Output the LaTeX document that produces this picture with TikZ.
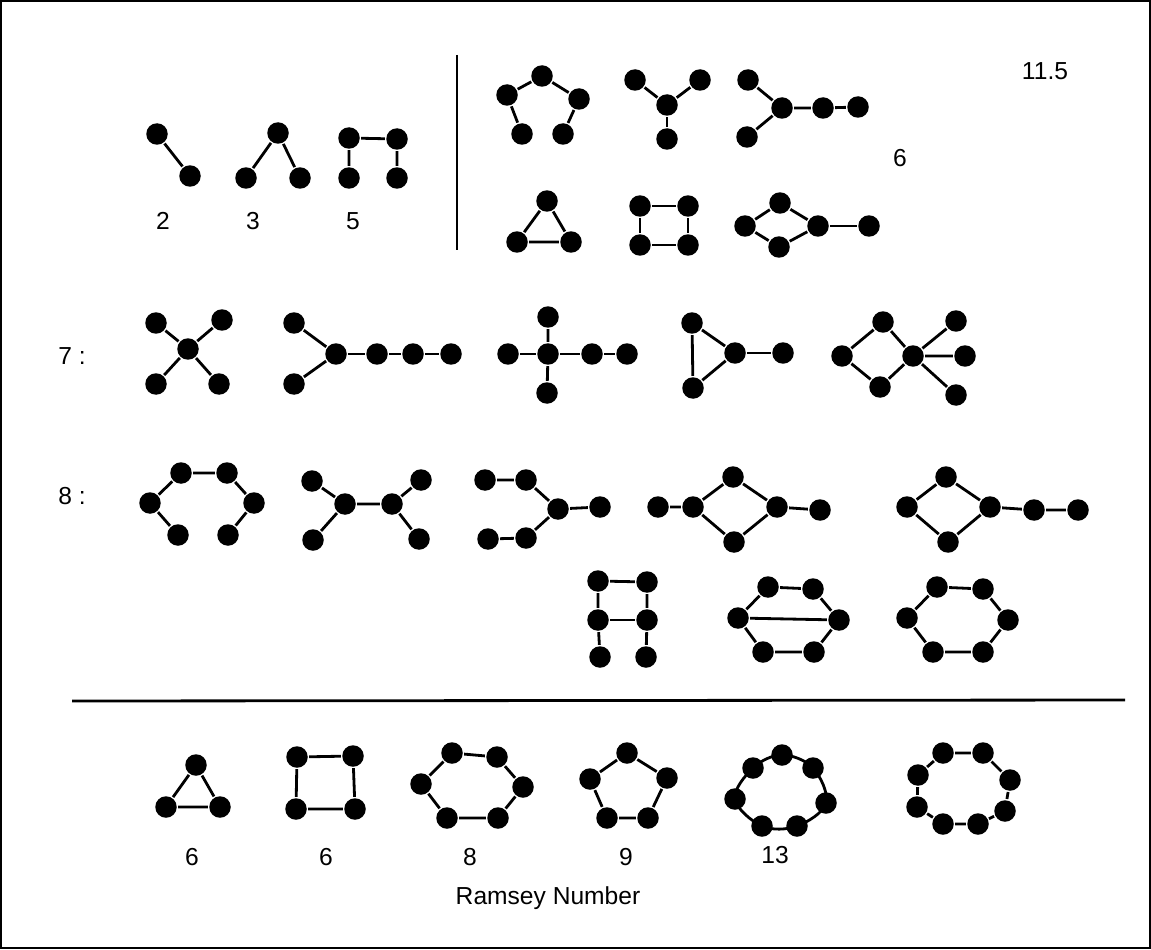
\documentclass[tikz,border=0pt]{standalone}
\usepackage{fontspec}
\setmainfont{Liberation Sans}
\tikzset{
  vtx/.style={circle, fill=black, draw=none, inner sep=0pt, minimum size=0.43cm},
  lbl/.style={inner sep=0pt, font=\fontsize{14}{16}\selectfont}
}
\begin{document}
\begin{tikzpicture}[x=0.02cm, y=-0.02cm, line width=1.6pt]
\useasboundingbox (0,0) rectangle (1151,949);
\draw[line width=1.1pt] (1,1) rectangle (1150,948);
% upper block
\draw (457,55) -- (457,250);
\node[vtx] (pa1) at (157,134) {};
\node[vtx] (pa2) at (190,176) {};
\draw (pa1) -- (pa2);
\node[vtx] (pb1) at (278,133) {};
\node[vtx] (pb2) at (246,178) {};
\node[vtx] (pb3) at (300,178) {};
\draw (pb2) -- (pb1) -- (pb3);
\node[vtx] (pc1) at (349,138) {};
\node[vtx] (pc2) at (397,139) {};
\node[vtx] (pc3) at (349,178) {};
\node[vtx] (pc4) at (397,178) {};
\draw (pc3) -- (pc1) -- (pc2) -- (pc4);
\node[lbl] (num2) at (163,221) {2};
\node[lbl] (num3) at (253,221) {3};
\node[lbl] (num5) at (353,221) {5};
\node[vtx] (pd1) at (522,134) {};
\node[vtx] (pd2) at (507,95) {};
\node[vtx] (pd3) at (542,76) {};
\node[vtx] (pd4) at (579,99) {};
\node[vtx] (pd5) at (563,134) {};
\draw (pd1) -- (pd2) -- (pd3) -- (pd4) -- (pd5);
\node[vtx] (pe0) at (667,105) {};
\node[vtx] (pe1) at (635,80) {};
\node[vtx] (pe2) at (700,80) {};
\node[vtx] (pe3) at (667,139) {};
\draw (pe1) -- (pe0) -- (pe2);
\draw (pe0) -- (pe3);
\node[vtx] (pf1) at (748,80) {};
\node[vtx] (pf2) at (747,137) {};
\node[vtx] (pf3) at (782,108) {};
\node[vtx] (pf4) at (823,108) {};
\node[vtx] (pf5) at (858,107) {};
\draw (pf1) -- (pf3) -- (pf2);
\draw (pf3) -- (pf4) -- (pf5);
\node[vtx] (pg1) at (547,201) {};
\node[vtx] (pg2) at (517,242) {};
\node[vtx] (pg3) at (571,242) {};
\draw (pg1) -- (pg2) -- (pg3) -- (pg1);
\node[vtx] (ph1) at (640,206) {};
\node[vtx] (ph2) at (688,206) {};
\node[vtx] (ph3) at (640,245) {};
\node[vtx] (ph4) at (688,245) {};
\draw (ph1) -- (ph2) -- (ph4) -- (ph3) -- (ph1);
\node[vtx] (pi1) at (745,226) {};
\node[vtx] (pi2) at (780,203) {};
\node[vtx] (pi3) at (779,247) {};
\node[vtx] (pi4) at (818,226) {};
\node[vtx] (pi5) at (869,226) {};
\draw (pi1) -- (pi2) -- (pi4) -- (pi3) -- (pi1);
\draw (pi4) -- (pi5);
\node[lbl] (num6) at (900,158) {6};
\node[lbl] (numtop) at (1045,71) {11.5};
% row 7
\node[lbl] (row7) at (72,356) {7 :};
\node[vtx] (sj0) at (188,349) {};
\node[vtx] (sj1) at (156,323) {};
\node[vtx] (sj2) at (222,320) {};
\node[vtx] (sj3) at (156,384) {};
\node[vtx] (sj4) at (219,384) {};
\draw (sj1) -- (sj0) -- (sj4);
\draw (sj2) -- (sj0) -- (sj3);
\node[vtx] (sk1) at (294,323) {};
\node[vtx] (sk2) at (294,384) {};
\node[vtx] (sk3) at (336,354) {};
\node[vtx] (sk4) at (377,354) {};
\node[vtx] (sk5) at (413,354) {};
\node[vtx] (sk6) at (451,354) {};
\draw (sk1) -- (sk3) -- (sk2);
\draw (sk3) -- (sk4) -- (sk5) -- (sk6);
\node[vtx] (sl0) at (548,354) {};
\node[vtx] (sl1) at (548,317) {};
\node[vtx] (sl2) at (508,354) {};
\node[vtx] (sl3) at (592,354) {};
\node[vtx] (sl4) at (627,354) {};
\node[vtx] (sl5) at (547,393) {};
\draw (sl1) -- (sl0) -- (sl5);
\draw (sl2) -- (sl0) -- (sl3) -- (sl4);
\node[vtx] (sm1) at (692,323) {};
\node[vtx] (sm2) at (693,388) {};
\node[vtx] (sm3) at (735,353) {};
\node[vtx] (sm4) at (783,353) {};
\draw (sm1) -- (sm3) -- (sm2) -- (sm1);
\draw (sm3) -- (sm4);
\node[vtx] (sn1) at (842,356) {};
\node[vtx] (sn2) at (883,322) {};
\node[vtx] (sn3) at (880,387) {};
\node[vtx] (sn4) at (913,356) {};
\node[vtx] (sn5) at (956,321) {};
\node[vtx] (sn6) at (965,356) {};
\node[vtx] (sn7) at (956,395) {};
\draw (sn1) -- (sn2) -- (sn4) -- (sn3) -- (sn1);
\draw (sn5) -- (sn4) -- (sn6);
\draw (sn4) -- (sn7);
% row 8
\node[lbl] (row8) at (72,496) {8 :};
\node[vtx] (ep1) at (178,535) {};
\node[vtx] (ep2) at (150,503) {};
\node[vtx] (ep3) at (181,473) {};
\node[vtx] (ep4) at (227,473) {};
\node[vtx] (ep5) at (254,503) {};
\node[vtx] (ep6) at (228,535) {};
\draw (ep1) -- (ep2) -- (ep3) -- (ep4) -- (ep5) -- (ep6);
\node[vtx] (eq1) at (312,481) {};
\node[vtx] (eq2) at (313,540) {};
\node[vtx] (eq3) at (345,504) {};
\node[vtx] (eq4) at (392,504) {};
\node[vtx] (eq5) at (421,480) {};
\node[vtx] (eq6) at (419,539) {};
\draw (eq1) -- (eq3) -- (eq2);
\draw (eq3) -- (eq4) -- (eq5);
\draw (eq4) -- (eq6);
\node[vtx] (er1) at (485,480) {};
\node[vtx] (er2) at (526,480) {};
\node[vtx] (er3) at (558,509) {};
\node[vtx] (er4) at (600,507) {};
\node[vtx] (er5) at (526,538) {};
\node[vtx] (er6) at (488,539) {};
\draw (er1) -- (er2) -- (er3) -- (er5) -- (er6);
\draw (er3) -- (er4);
\node[vtx] (es1) at (658,507) {};
\node[vtx] (es2) at (693,507) {};
\node[vtx] (es3) at (733,477) {};
\node[vtx] (es4) at (734,542) {};
\node[vtx] (es5) at (777,507) {};
\node[vtx] (es6) at (820,510) {};
\draw (es1) -- (es2) -- (es3) -- (es5) -- (es4) -- (es2);
\draw (es5) -- (es6);
\node[vtx] (et1) at (907,507) {};
\node[vtx] (et2) at (946,477) {};
\node[vtx] (et3) at (948,542) {};
\node[vtx] (et4) at (990,507) {};
\node[vtx] (et5) at (1034,510) {};
\node[vtx] (et6) at (1078,510) {};
\draw (et1) -- (et2) -- (et4) -- (et3) -- (et1);
\draw (et4) -- (et5) -- (et6);
\node[vtx] (eu1) at (598,581) {};
\node[vtx] (eu2) at (647,582) {};
\node[vtx] (eu3) at (598,620) {};
\node[vtx] (eu4) at (647,620) {};
\node[vtx] (eu5) at (600,657) {};
\node[vtx] (eu6) at (646,657) {};
\draw (eu5) -- (eu3) -- (eu1) -- (eu2) -- (eu4) -- (eu6);
\draw (eu3) -- (eu4);
\node[vtx] (ev1) at (738,618) {};
\node[vtx] (ev2) at (768,587) {};
\node[vtx] (ev3) at (813,589) {};
\node[vtx] (ev4) at (839,620) {};
\node[vtx] (ev5) at (814,652) {};
\node[vtx] (ev6) at (763,652) {};
\draw (ev1) -- (ev2) -- (ev3) -- (ev4) -- (ev5) -- (ev6) -- (ev1) -- (ev4);
\node[vtx] (ew1) at (907,618) {};
\node[vtx] (ew2) at (937,587) {};
\node[vtx] (ew3) at (983,589) {};
\node[vtx] (ew4) at (1008,620) {};
\node[vtx] (ew5) at (983,652) {};
\node[vtx] (ew6) at (933,652) {};
\draw (ew1) -- (ew2) -- (ew3) -- (ew4) -- (ew5) -- (ew6) -- (ew1);
% cycles
\draw (72,701) -- (1125,700);
\node[vtx] (ya1) at (196,765) {};
\node[vtx] (ya2) at (166,807) {};
\node[vtx] (ya3) at (220,807) {};
\draw (ya1) -- (ya2) -- (ya3) -- (ya1);
\node[vtx] (yb1) at (297,757) {};
\node[vtx] (yb2) at (353,756) {};
\node[vtx] (yb3) at (355,809) {};
\node[vtx] (yb4) at (296,809) {};
\draw (yb1) -- (yb2) -- (yb3) -- (yb4) -- (yb1);
\node[vtx] (yc1) at (452,753) {};
\node[vtx] (yc2) at (497,757) {};
\node[vtx] (yc3) at (523,787) {};
\node[vtx] (yc4) at (498,818) {};
\node[vtx] (yc5) at (447,818) {};
\node[vtx] (yc6) at (421,784) {};
\draw (yc1) -- (yc2) -- (yc3) -- (yc4) -- (yc5) -- (yc6) -- (yc1);
\node[vtx] (yd1) at (627,753) {};
\node[vtx] (yd2) at (667,778) {};
\node[vtx] (yd3) at (648,818) {};
\node[vtx] (yd4) at (607,818) {};
\node[vtx] (yd5) at (590,779) {};
\draw (yd1) -- (yd2) -- (yd3) -- (yd4) -- (yd5) -- (yd1);
\node[vtx] (ye1) at (782,755) {};
\node[vtx] (ye2) at (813,768) {};
\node[vtx] (ye3) at (826,803) {};
\node[vtx] (ye4) at (797,826) {};
\node[vtx] (ye5) at (762,826) {};
\node[vtx] (ye6) at (735,799) {};
\node[vtx] (ye7) at (753,768) {};
\draw plot[smooth cycle, tension=0.6] coordinates {(ye1.center) (ye2.center) (ye3.center) (ye4.center) (ye5.center) (ye6.center) (ye7.center)};
\node[vtx] (yf1) at (943,753) {};
\node[vtx] (yf2) at (983,753) {};
\node[vtx] (yf3) at (1010,780) {};
\node[vtx] (yf4) at (1005,811) {};
\node[vtx] (yf5) at (978,824) {};
\node[vtx] (yf6) at (943,824) {};
\node[vtx] (yf7) at (917,807) {};
\node[vtx] (yf8) at (918,775) {};
\draw (yf1) -- (yf2) -- (yf3) -- (yf4) -- (yf5) -- (yf6) -- (yf7) -- (yf8) -- (yf1);
\node[lbl] (rn1) at (192,857) {6};
\node[lbl] (rn2) at (326,857) {6};
\node[lbl] (rn3) at (470,857) {8};
\node[lbl] (rn4) at (626,857) {9};
\node[lbl] (rn5) at (775,855) {13};
\node[lbl] (ramsey) at (548,898) {Ramsey Number};
\end{tikzpicture}
\end{document}
